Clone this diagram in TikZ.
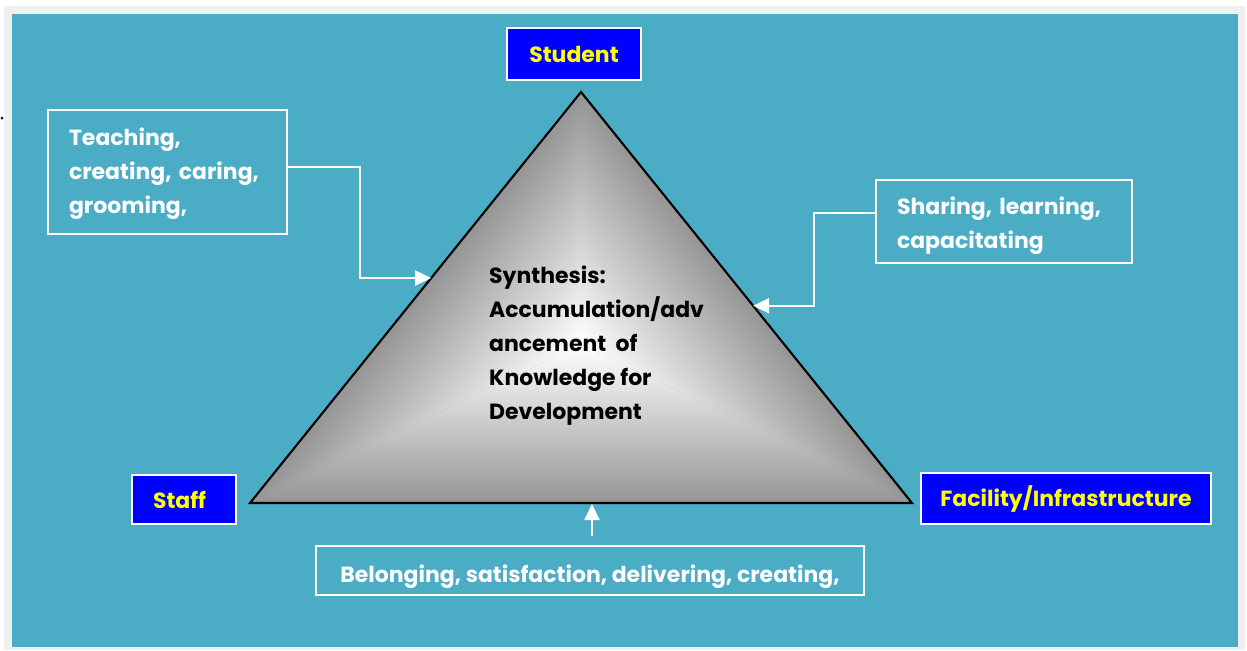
\documentclass[tikz,border=0pt]{standalone}
\usepackage{fontspec}
\setmainfont{Poppins}
\usetikzlibrary{arrows.meta,calc}

\definecolor{pagegray}{HTML}{F0F0F0}
\definecolor{tealbg}{HTML}{4BACC6}
\definecolor{cornerblue}{HTML}{0000FF}
\definecolor{cornertext}{HTML}{FFFF00}
\definecolor{triedge}{HTML}{959595}

% grey at a side of the triangle, white at its middle
\pgfdeclareverticalshading{facefade}{100bp}{%
  color(0bp)=(triedge); color(25bp)=(triedge); color(75bp)=(white); color(100bp)=(white)}

\tikzset{
  every node/.style={font=\bfseries\fontsize{12.5}{19.3}\selectfont},
  corner/.style={draw=white,line width=1.1pt,fill=cornerblue,text=cornertext,inner sep=0pt},
  role/.style={draw=white,line width=1.1pt,text=white,align=left,inner xsep=0.42cm},
  flow/.style={draw=white,line width=1.1pt,-{Triangle[length=0.32cm,width=0.3cm]}}
}

% shade one third of the triangle: #1,#2 the side, #3 the angle of its inner normal
\newcommand\triface[3]{%
  \begin{scope}
    \clip (mid) -- (#1) -- (#2) -- cycle;
    \coordinate (foot) at ($(#1)!(mid)!(#2)$);
    \begin{scope}[transform canvas={shift={(foot)},rotate=#3}]
      \shade[shading=facefade] (-9cm,0cm) rectangle (9cm,3.168cm);
    \end{scope}
  \end{scope}}

\begin{document}
\begin{tikzpicture}[x=0.02cm,y=-0.02cm]
  \useasboundingbox (0,0) rectangle (1247,650);
  \fill[pagegray] (4,6) rectangle (1245,650);
  \fill[tealbg] (12,14) rectangle (1238,647);
  \fill[black] (2,118) circle (0.03cm);

  % knowledge triangle
  \coordinate (top) at (581,92);
  \coordinate (bl)  at (250,503);
  \coordinate (br)  at (912,503);
  \coordinate (mid) at (581,344.6);
  \triface{bl}{br}{0}
  \triface{bl}{top}{-128.85}
  \triface{top}{br}{128.85}
  \draw[line width=1.2pt] (top) -- (br) -- (bl) -- cycle;

  \node[anchor=west,align=left] (core) at (483,345.5)
    {Synthesis:\\Accumulation/adv\\ancement\ \ of\\Knowledge for\\Development};

  % corners
  \node[corner,minimum width=2.68cm,minimum height=1.04cm] (student) at (574,54)   {Student};
  \node[corner,minimum height=0.98cm,text width=1.24cm,inner xsep=0.42cm,align=left] (staff) at (184,499.5) {Staff};
  \node[corner,minimum width=5.8cm,minimum height=1.02cm]  (facility) at (1066,498.5) {Facility/Infrastructure};

  % what flows into the triangle
  \node[role,text width=3.94cm,minimum height=2.48cm,text height=0.41cm] (teach) at (167.5,172)
    {Teaching,\\creating, caring,\\grooming,};
  \node[role,text width=4.28cm,minimum height=1.66cm,text height=0.51cm] (share) at (1004,221.5)
    {Sharing, learning,\\capacitating};
  \node[role,minimum width=10.96cm,minimum height=0.98cm,text height=0.47cm,text depth=0pt] (belong) at (590,570.5)
    {Belonging, satisfaction, delivering, creating,};

  \coordinate (lhit) at ($(top)!0.4526!(bl)$);
  \coordinate (rhit) at ($(top)!0.52!(br)$);
  \coordinate (bhit) at (592,504);

  \draw[flow] ([yshift=0.1cm]teach.east) -- ++(72,0) |- (lhit);
  \draw[flow] ([yshift=0.17cm]share.west) -- ++(-61,0) |- (rhit);
  \draw[flow] ([xshift=0.04cm,yshift=0.18cm]belong.north) -- (bhit);
\end{tikzpicture}
\end{document}
